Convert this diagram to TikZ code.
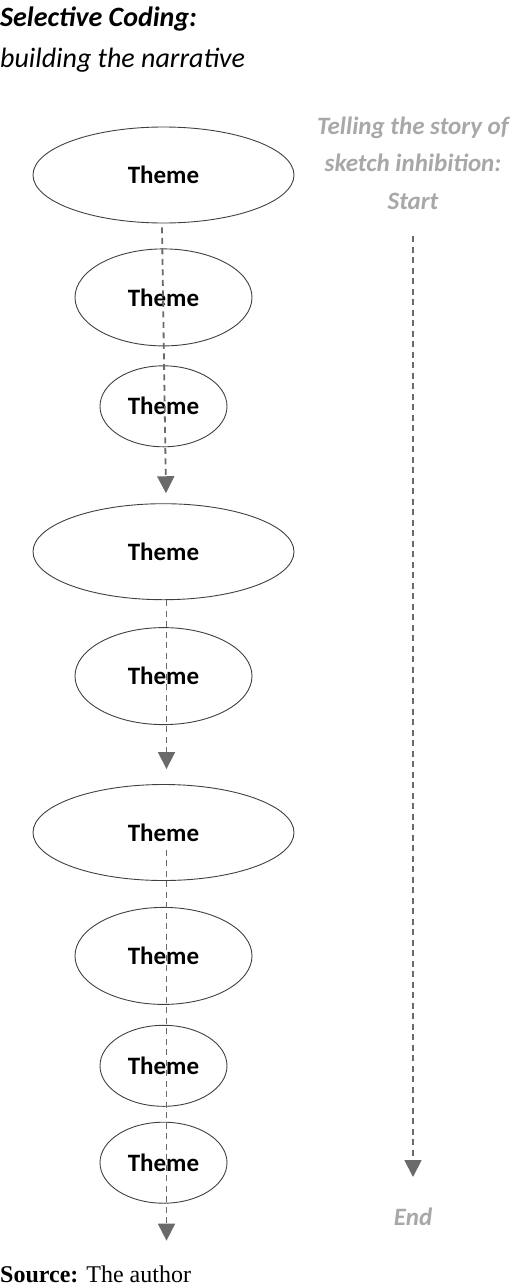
\documentclass[tikz,border=0pt]{standalone}
\usepackage{fontspec}
\setmainfont{Carlito}
\newfontfamily\sourcefont{Liberation Serif}
\usetikzlibrary{arrows.meta,shapes.geometric,positioning}
\definecolor{storygray}{HTML}{A8A8A8}
\definecolor{flowgray}{HTML}{6A6A6A}
\tikzset{
    theme/.style={draw=black!75, ellipse, line width=0.9pt, inner sep=0pt, font=\bfseries\fontsize{25}{30}\selectfont},
    widetheme/.style={minimum width=261pt, minimum height=96pt},
    midtheme/.style={minimum width=177pt, minimum height=97pt},
    smalltheme/.style={minimum width=127pt, minimum height=81pt},
    flow/.style={-{Triangle[length=17pt, width=17pt]}, flowgray, line width=1.8pt, dash pattern=on 6pt off 4.5pt},
    story/.style={storygray, font=\bfseries\itshape\fontsize{25}{37.5}\selectfont, align=center}
}

\begin{document}
\begin{tikzpicture}[x=1pt, y=-1pt]
    \useasboundingbox (0,0) rectangle (520,1285);

    \node[anchor=base west, inner sep=0pt, font=\bfseries\itshape\fontsize{28}{34}\selectfont] (title) at (0,26) {Selective Coding:};
    \node[anchor=base west, inner sep=0pt, font=\itshape\fontsize{28}{34}\selectfont] (subtitle) at (0,67) {building the narrative};

    \node[theme, widetheme] (t1) at (163.5,175) {Theme};
    \node[theme, midtheme, below=25pt of t1] (t2) {Theme};
    \node[theme, smalltheme, below=19pt of t2] (t3) {Theme};
    \node[theme, widetheme, below=56pt of t3] (t4) {Theme};
    \node[theme, midtheme, below=27pt of t4] (t5) {Theme};
    \node[theme, widetheme, below=59pt of t5] (t6) {Theme};
    \node[theme, midtheme, below=26pt of t6] (t7) {Theme};
    \node[theme, smalltheme, below=20pt of t7] (t8) {Theme};
    \node[theme, smalltheme, below=15pt of t8] (t9) {Theme};

    \draw[flow] ([xshift=-1.5pt, yshift=-4pt]t1.south) -- ([xshift=2.5pt, yshift=10pt]t4.north);
    \draw[flow] ([xshift=3pt]t4.south) -- ([xshift=3pt, yshift=15pt]t6.north);
    \draw[flow] ([xshift=3pt, yshift=-17pt]t6.center) -- ([xshift=3pt, yshift=-37pt]t9.south);

    % the story line on the right
    \node[story] (story) at (413,163) {Telling the story of\\sketch inhibition:\\Start};
    \coordinate (start) at (413,236);
    \coordinate (tip) at (413,1177);
    \draw[flow] (start) -- (tip);
    \node[story] (finish) at (413,1217) {End};

    \node[anchor=base west, inner sep=0pt, font=\sourcefont\fontsize{24}{28}\selectfont] (source) at (0,1282) {\textbf{Source:} The author};
\end{tikzpicture}
\end{document}
